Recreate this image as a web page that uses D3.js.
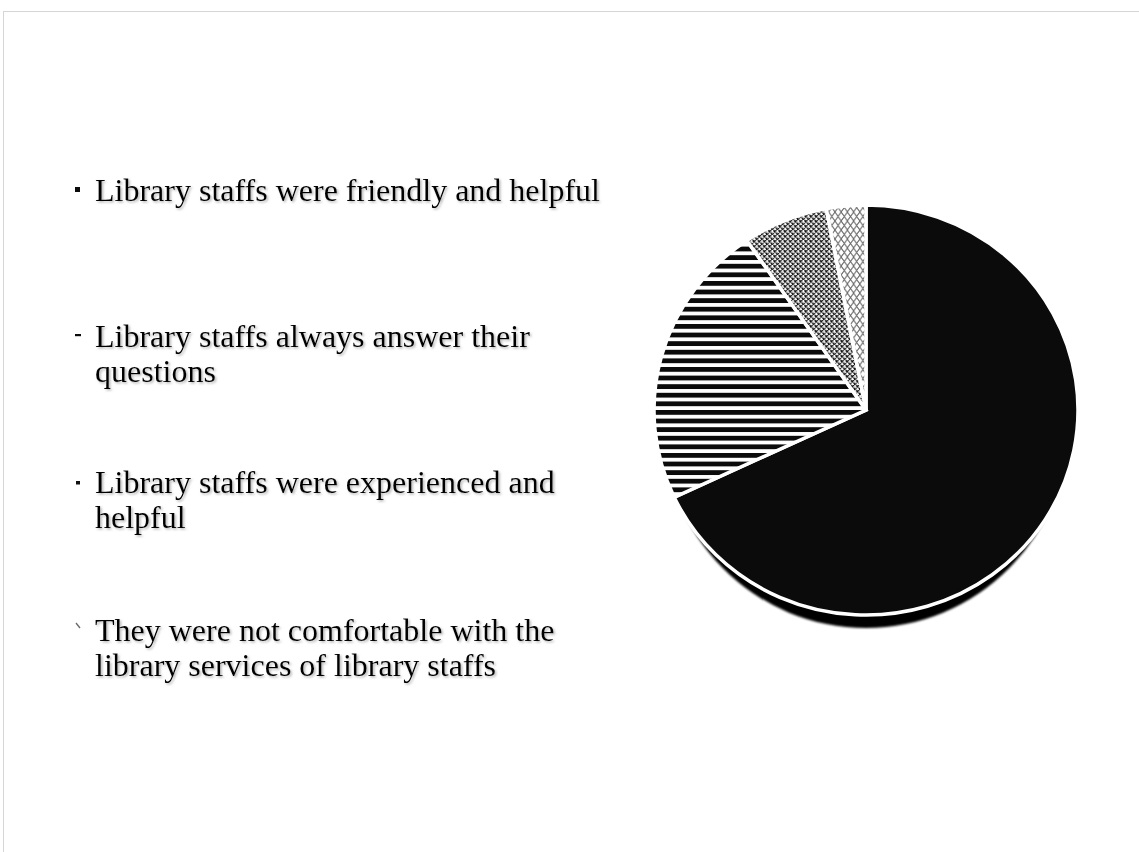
<!DOCTYPE html>
<html>
<head>
<meta charset="utf-8">
<script src="https://cdn.jsdelivr.net/npm/d3@7"></script>
<style>
  html, body { margin: 0; padding: 0; background: #fff; }
  svg { display: block; }
</style>
</head>
<body>
<svg id="chart" width="1139" height="852"></svg>
<script>
// Survey responses about library staff (share of respondents, %)
const categories = [
  ["Library staffs were friendly and helpful"],
  ["Library staffs always answer their", "questions"],
  ["Library staffs were experienced and", "helpful"],
  ["They were not comfortable with the", "library services of library staffs"]
];
const values = [68, 22.5, 6.5, 3];
const fills = ["solid", "hstripes", "dense", "lattice"];

const svg = d3.select("#chart");
const defs = svg.append("defs");

// Page frame
svg.append("rect")
  .attr("x", 3.5).attr("y", 11.5)
  .attr("width", 1200).attr("height", 900)
  .attr("fill", "none").attr("stroke", "#d6d6d6").attr("stroke-width", 1);

// Text shadow
const ts = defs.append("filter").attr("id", "textShadow")
  .attr("x", "-5%").attr("y", "-20%").attr("width", "110%").attr("height", "140%");
ts.append("feDropShadow").attr("dx", 1.5).attr("dy", 1.5).attr("stdDeviation", 0.9)
  .attr("flood-color", "#777").attr("flood-opacity", 0.55);

const blur = defs.append("filter").attr("id", "softBlur");
blur.append("feGaussianBlur").attr("stdDeviation", 0.8);

// Fill patterns
const pStripes = defs.append("pattern").attr("id", "hstripes")
  .attr("patternUnits", "userSpaceOnUse").attr("width", 10).attr("height", 8.6);
pStripes.append("rect").attr("width", 10).attr("height", 8.6).attr("fill", "#fff");
pStripes.append("rect").attr("y", 0).attr("width", 10).attr("height", 4.8).attr("fill", "#0b0b0b");

const pDense = defs.append("pattern").attr("id", "dense")
  .attr("patternUnits", "userSpaceOnUse").attr("width", 5).attr("height", 5);
pDense.append("rect").attr("width", 5).attr("height", 5).attr("fill", "#fff");
pDense.append("path").attr("d", "M0,0.3 L2,0 L3,2.4 L1,2.7 Z M2.5,2.8 L4.5,2.5 L5,4.9 L3.5,5 Z")
  .attr("fill", "#111");
pDense.append("path").attr("d", "M2.6,0 L3.6,1.3 M0,3 L1,4.4")
  .attr("stroke", "#222").attr("stroke-width", 1.1);

const pLattice = defs.append("pattern").attr("id", "lattice")
  .attr("patternUnits", "userSpaceOnUse").attr("width", 6).attr("height", 9);
pLattice.append("rect").attr("width", 6).attr("height", 9).attr("fill", "#fff");
pLattice.append("path").attr("d", "M0,0 L3,4.5 L0,9 M6,0 L3,4.5 L6,9")
  .attr("fill", "none").attr("stroke", "#666").attr("stroke-width", 1);

const fillFor = k => k === "solid" ? "#0b0b0b" : `url(#${k})`;

// Pie
const cx = 866, cy = 410, rx = 212, ry = 205;
const pie = d3.pie().sort(null).startAngle(0).endAngle(2 * Math.PI);
const arcs = pie(values);
const arc = d3.arc().innerRadius(0).outerRadius(ry);

const g = svg.append("g")
  .attr("transform", `translate(${cx},${cy}) scale(${rx / ry},1)`);

// drop shadow under the pie
g.append("ellipse")
  .attr("cx", 0).attr("cy", 13)
  .attr("rx", ry - 9).attr("ry", ry)
  .attr("fill", "#000")
  .attr("filter", "url(#softBlur)");

g.selectAll("path.slice")
  .data(arcs)
  .join("path")
  .attr("class", "slice")
  .attr("d", arc)
  .attr("fill", (d, i) => fillFor(fills[i]))
  .attr("stroke", "#fff")
  .attr("stroke-width", 3.5)
  .attr("stroke-linejoin", "miter")
  .attr("vector-effect", "non-scaling-stroke");

// Legend list
const baselines = [201, 347, 493, 641];
const lineGap = 35;
const items = svg.append("g").selectAll("g.item")
  .data(categories)
  .join("g")
  .attr("class", "item")
  .attr("transform", (d, i) => `translate(0,${baselines[i]})`);

items.append("text")
  .attr("x", 95)
  .attr("font-family", "'Liberation Serif', 'Times New Roman', serif")
  .attr("font-size", 32)
  .attr("fill", "#000")
  .attr("filter", "url(#textShadow)")
  .selectAll("tspan")
  .data(d => d)
  .join("tspan")
  .attr("x", 95)
  .attr("y", (d, j) => j * lineGap)
  .text(d => d);

// small legend keys in front of each item
items.each(function(d, i) {
  const k = d3.select(this);
  if (fills[i] === "solid") {
    k.append("rect").attr("x", 75).attr("y", -14).attr("width", 5).attr("height", 5).attr("fill", "#0b0b0b");
  } else if (fills[i] === "hstripes") {
    k.append("rect").attr("x", 75).attr("y", -13).attr("width", 6).attr("height", 2.2).attr("fill", "#0b0b0b");
  } else if (fills[i] === "dense") {
    k.append("rect").attr("x", 76).attr("y", -12).attr("width", 4).attr("height", 3.5).attr("fill", "#111");
  } else {
    k.append("path").attr("d", "M76,-18 L80,-13").attr("stroke", "#666").attr("stroke-width", 1.3);
  }
});
</script>
</body>
</html>
